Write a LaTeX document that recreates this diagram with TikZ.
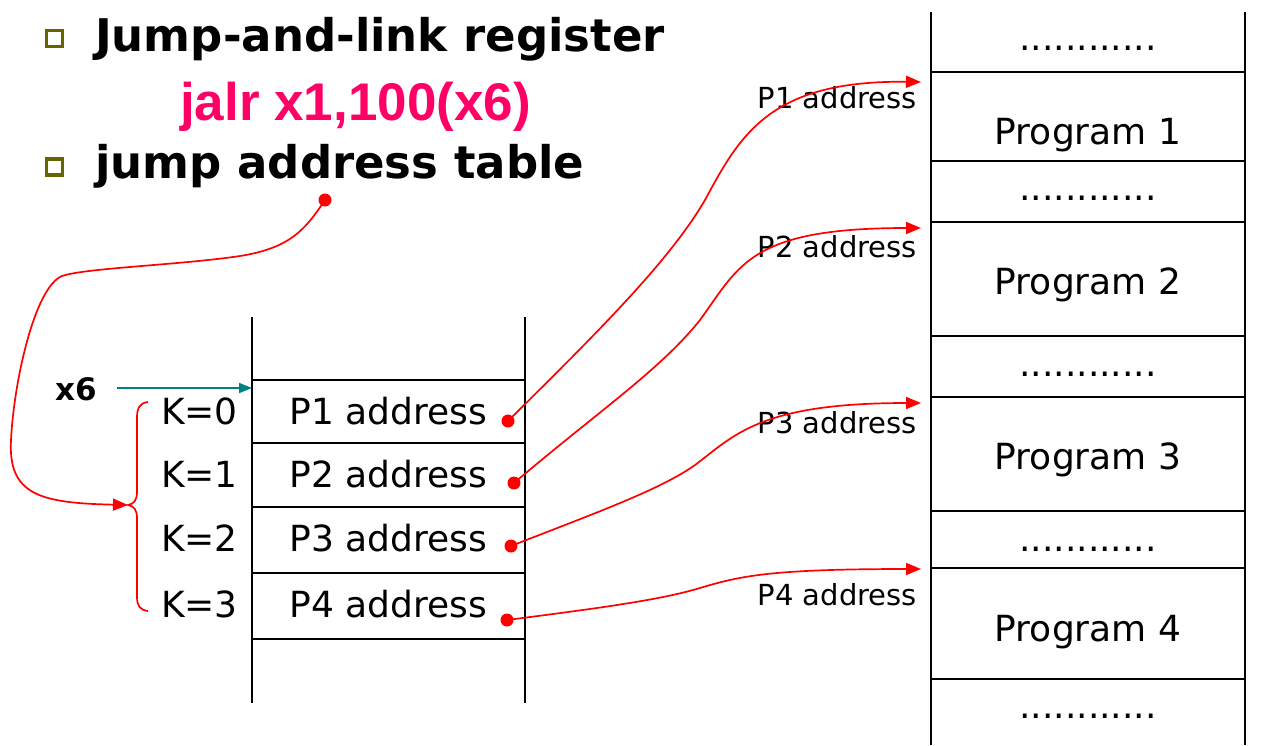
\documentclass[tikz,border=0pt]{standalone}
\usepackage{fontspec}
\setmainfont{DejaVu Sans}
\newfontfamily\arialf{Liberation Sans}
\usetikzlibrary{arrows.meta}
\definecolor{pinkc}{HTML}{FF0066}
\definecolor{olivec}{HTML}{666600}
\definecolor{tealc}{HTML}{008080}
\definecolor{redc}{HTML}{FF0000}
\tikzset{
  bigtxt/.style={font=\fontsize{36}{40}\selectfont, inner sep=0pt, anchor=base},
  ktxt/.style={font=\fontsize{36}{40}\selectfont, inner sep=0pt, anchor=base east},
  smalltxt/.style={font=\fontsize{29}{32}\selectfont, inner sep=0pt, anchor=base east},
  titletxt/.style={font=\fontsize{45}{50}\selectfont\bfseries, inner sep=0pt, anchor=base west},
  bulletbox/.style={draw=olivec, line width=3.2pt, minimum size=16pt, inner sep=0pt},
  blackline/.style={line width=2.2pt, black},
  redline/.style={draw=redc, line width=1.7pt},
  reddot/.style={circle, fill=redc, inner sep=0pt, minimum size=13pt},
  redarrow/.style={redline, -{Triangle[length=15pt,width=12pt]}},
}
\begin{document}
\begin{tikzpicture}[x=1pt,y=-1pt]
\useasboundingbox[fill=white] (0,0) rectangle (1281,745);

% bullets and title
\node[bulletbox] (b1) at (54.5,38.5) {};
\node[bulletbox] (b2) at (54.5,167) {};
\node[titletxt] (t1) at (95,51) {Jump-and-link register};
\node[font=\fontsize{53}{56}\selectfont\arialf\bfseries, text=pinkc, inner sep=0pt, anchor=base west] (t2) at (180,120) {jalr x1,100(x6)};
\node[titletxt] (t3) at (95,178) {jump address table};

% jump address table
\draw[blackline] (252,317) -- (252,703);
\draw[blackline] (525,317) -- (525,703);
\foreach \yy in {380,443,507,573,639} \draw[blackline] (252,\yy) -- (525,\yy);
\node[bigtxt] (e1) at (388.5,424) {P1 address};
\node[bigtxt] (e2) at (388.5,487) {P2 address};
\node[bigtxt] (e3) at (388.5,551) {P3 address};
\node[bigtxt] (e4) at (388.5,617) {P4 address};
\node[ktxt] (k0) at (238,424) {K=0};
\node[ktxt] (k1) at (238,487) {K=1};
\node[ktxt] (k2) at (238,551) {K=2};
\node[ktxt] (k3) at (238,617) {K=3};

% x6
\node[font=\fontsize{31}{34}\selectfont\bfseries, inner sep=0pt, anchor=base west] (x6) at (55,400) {x6};
\coordinate (x6s) at (117,388);
\coordinate (x6e) at (252,388);
\draw[tealc, line width=1.6pt, -{Triangle[length=13pt,width=10pt]}] (x6s) -- (x6e);

% brace
\coordinate (btip) at (128,505);
\draw[redline] (148,402) .. controls (139,403) and (137,409) .. (137,418) -- (137,492)
  .. controls (137,500) and (134,504) .. (btip)
  .. controls (134,506) and (137,510) .. (137,518) -- (137,597)
  .. controls (137,606) and (140,610) .. (148,611);

% jump table curve
\node[reddot] (jd) at (325,200) {};
\draw[redarrow] (jd.center) .. controls (305,230) and (290,248) .. (240,256)
  .. controls (180,265) and (85,268) .. (62,276)
  .. controls (35,287) and (14,380) .. (11,440)
  .. controls (8,495) and (40,503) .. (btip);

% right memory column
\draw[blackline] (931,12) -- (931,745);
\draw[blackline] (1245,12) -- (1245,745);
\foreach \yy in {72,161,222,336,397,511,568,679} \draw[blackline] (931,\yy) -- (1245,\yy);
\node[bigtxt] (m0) at (1088,50) {............};
\node[bigtxt] (p1) at (1088,144) {Program 1};
\node[bigtxt] (m1) at (1088,200) {............};
\node[bigtxt] (p2) at (1088,294) {Program 2};
\node[bigtxt] (m2) at (1088,376) {............};
\node[bigtxt] (p3) at (1088,469) {Program 3};
\node[bigtxt] (m3) at (1088,551) {............};
\node[bigtxt] (p4) at (1088,641) {Program 4};
\node[bigtxt] (m4) at (1088,718) {............};

% small labels
\node[smalltxt] (l1) at (917,108) {P1 address};
\node[smalltxt] (l2) at (917,257) {P2 address};
\node[smalltxt] (l3) at (917,433) {P3 address};
\node[smalltxt] (l4) at (917,605) {P4 address};

% pointers
\node[reddot] (d1) at (508,421) {};
\node[reddot] (d2) at (514,483) {};
\node[reddot] (d3) at (511,546) {};
\node[reddot] (d4) at (507,620) {};
\coordinate (a1) at (921,82);
\coordinate (a2) at (921,228);
\coordinate (a3) at (921,403);
\coordinate (a4) at (921,569);
\draw[redarrow] (d1.center) .. controls (600,330) and (670,260) .. (705,200)
  .. controls (740,135) and (770,80) .. (a1);
\draw[redarrow] (d2.center) .. controls (600,410) and (660,370) .. (700,320)
  .. controls (740,265) and (750,228) .. (a2);
\draw[redarrow] (d3.center) .. controls (590,515) and (660,490) .. (695,465)
  .. controls (735,435) and (760,403) .. (a3);
\draw[redarrow] (d4.center) .. controls (600,608) and (660,600) .. (700,588)
  .. controls (740,576) and (770,569) .. (a4);
\end{tikzpicture}
\end{document}
